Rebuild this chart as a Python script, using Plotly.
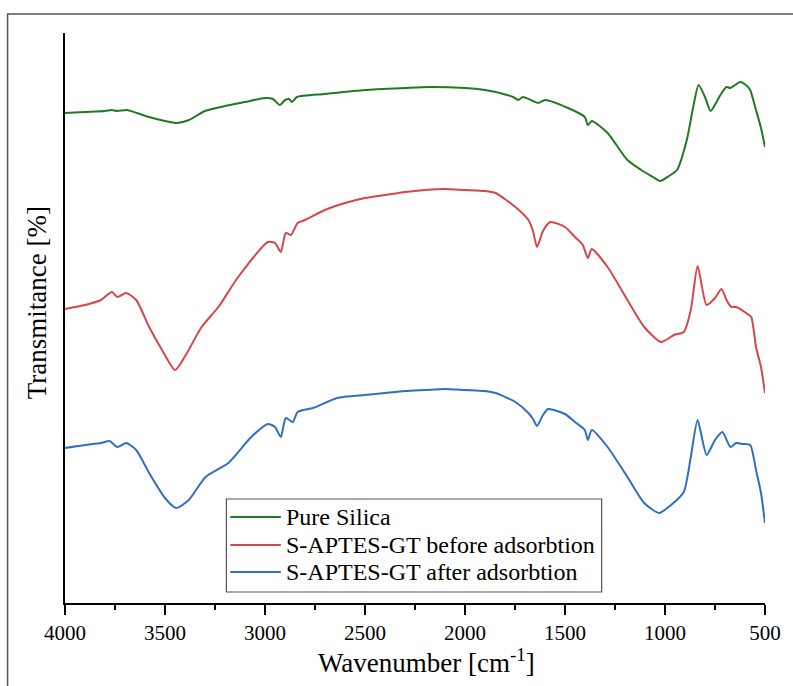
import plotly.graph_objects as go

# Wavenumber (cm^-1) and transmittance (arbitrary units, offset traces)
silica_wn = [4000, 3900, 3800, 3766, 3740, 3690, 3640, 3580, 3500, 3440, 3380, 3300, 3200, 3100,
             3000, 2960, 2926, 2900, 2880, 2865, 2840, 2700, 2500, 2300, 2180, 2000, 1900, 1847,
             1760, 1733, 1710, 1660, 1634, 1600, 1485, 1401, 1386, 1366, 1287, 1188, 1119, 1060,
             1025, 980, 940, 891, 857, 832, 800, 772, 745, 723, 693, 673, 624, 590, 574, 545, 520, 500]
silica_t = [490, 491, 492, 493, 492, 493, 490, 486, 482, 480, 483, 492, 497, 501,
            505, 504, 498, 503, 504, 501, 506, 509, 513, 515, 516, 515, 513, 511,
            506, 503, 506, 502, 500, 503, 495, 486, 478, 482, 470, 443, 433, 426,
            422, 427, 433, 463, 498, 518, 506, 492, 500, 508, 516, 515, 521, 517, 513, 493, 475, 456]

before_wn = [4000, 3900, 3820, 3766, 3738, 3694, 3644, 3579, 3515, 3450, 3396, 3317, 3233, 3134,
             2985, 2950, 2921, 2896, 2870, 2837, 2800, 2700, 2600, 2500, 2400, 2300, 2200, 2100,
             2000, 1900, 1847, 1748, 1683, 1660, 1640, 1610, 1574, 1500, 1450, 1411, 1386, 1366,
             1287, 1188, 1104, 1020, 955, 906, 871, 837, 792, 750, 718, 690, 668, 644, 594, 569,
             545, 520, 500]
before_t = [294, 298, 303, 311, 306, 310, 303, 276, 253, 233, 248, 276, 296, 326,
            361, 360, 351, 370, 368, 380, 383, 393, 400, 405, 408, 411, 413, 414,
            413, 412, 410, 396, 383, 372, 356, 372, 381, 376, 366, 358, 345, 354,
            336, 303, 276, 261, 268, 271, 293, 337, 298, 305, 314, 302, 296, 296, 290, 286,
            256, 236, 210]

after_wn = [4000, 3900, 3820, 3777, 3738, 3694, 3644, 3579, 3500, 3445, 3381, 3297, 3183, 3069,
            2985, 2950, 2921, 2896, 2861, 2837, 2760, 2639, 2500, 2400, 2300, 2200, 2100, 2000,
            1900, 1847, 1748, 1683, 1660, 1640, 1610, 1584, 1500, 1450, 1401, 1386, 1366, 1287,
            1188, 1104, 1030, 970, 906, 871, 837, 792, 750, 713, 673, 644, 610, 574, 545, 520, 500]
after_t = [155, 158, 160, 162, 156, 160, 153, 130, 105, 95, 103, 126, 140, 166,
           179, 176, 166, 185, 181, 191, 195, 205, 208, 210, 212, 213, 214, 213,
           212, 210, 201, 190, 184, 177, 188, 194, 189, 181, 173, 163, 173, 156,
           126, 100, 90, 98, 111, 146, 183, 148, 163, 171, 156, 160, 159, 158, 133, 110, 80]

series_names = ["Pure Silica", "S-APTES-GT before adsorbtion", "S-APTES-GT after adsorbtion"]
series_wn = [silica_wn, before_wn, after_wn]
series_t = [silica_t, before_t, after_t]
colors = ["#217a21", "#d4474a", "#2f6fc0"]

FONT = "Liberation Serif"

fig = go.Figure()
for name, wn, t, col in zip(series_names, series_wn, series_t, colors):
    fig.add_trace(go.Scatter(x=wn, y=t, mode="lines", name=name, showlegend=False,
                             line=dict(color=col, width=2, shape="spline", smoothing=0.6)))

W, H = 793, 686
L, R, T, B = 65, 21, 33, 83
pw, ph = W - L - R, H - T - B


def px(xp):
    return (xp - L) / pw


def py(yp):
    return (H - B - yp) / ph


fig.update_layout(
    width=W, height=H,
    margin=dict(l=L, r=R, t=T, b=B, pad=0),
    paper_bgcolor="white", plot_bgcolor="white",
    font=dict(family=FONT, color="black"),
    showlegend=False,
    xaxis=dict(range=[4000, 500], showgrid=False, zeroline=False,
               showline=True, linecolor="black", linewidth=2,
               ticks="outside", tickmode="linear", tick0=500, dtick=500,
               ticklen=10, tickwidth=2, tickcolor="black",
               minor=dict(ticks="outside", dtick=250, tick0=500, ticklen=5, tickwidth=2,
                          tickcolor="black"),
               tickfont=dict(family=FONT, size=21, color="black")),
    yaxis=dict(range=[0, 570], showgrid=False, zeroline=False,
               showline=True, linecolor="black", linewidth=2,
               showticklabels=False, ticks=""),
)

# outer frame of the figure (clipped at right and bottom)
fig.add_shape(type="rect", xref="paper", yref="paper",
              x0=px(7), x1=px(810), y0=py(720), y1=py(14),
              line=dict(color="#555", width=1.5), fillcolor="rgba(0,0,0,0)", layer="below")

# legend box with line samples and labels
fig.add_shape(type="rect", xref="paper", yref="paper",
              x0=px(228), x1=px(607), y0=py(592), y1=py(499),
              line=dict(color="#555", width=1.2), fillcolor="white", layer="above")
row_y = [517, 545, 572]
for name, col, ry in zip(series_names, colors, row_y):
    fig.add_shape(type="line", xref="paper", yref="paper",
                  x0=px(232), x1=px(283), y0=py(ry), y1=py(ry),
                  line=dict(color=col, width=2), layer="above")
    fig.add_annotation(text=name, xref="paper", yref="paper", x=px(286), y=py(ry),
                       xanchor="left", yanchor="middle", showarrow=False,
                       font=dict(family=FONT, size=24, color="black"))

fig.add_annotation(text="Wavenumber [cm<sup>-1</sup>]", xref="paper", yref="paper",
                   x=px(430), y=py(661), xanchor="center", yanchor="middle",
                   showarrow=False, font=dict(family=FONT, size=27, color="black"))
fig.add_annotation(text="Transmitance [%]", xref="paper", yref="paper", textangle=-90,
                   x=px(37), y=py(303), xanchor="center", yanchor="middle",
                   showarrow=False, font=dict(family=FONT, size=27, color="black"))

fig.write_html("out.html")
